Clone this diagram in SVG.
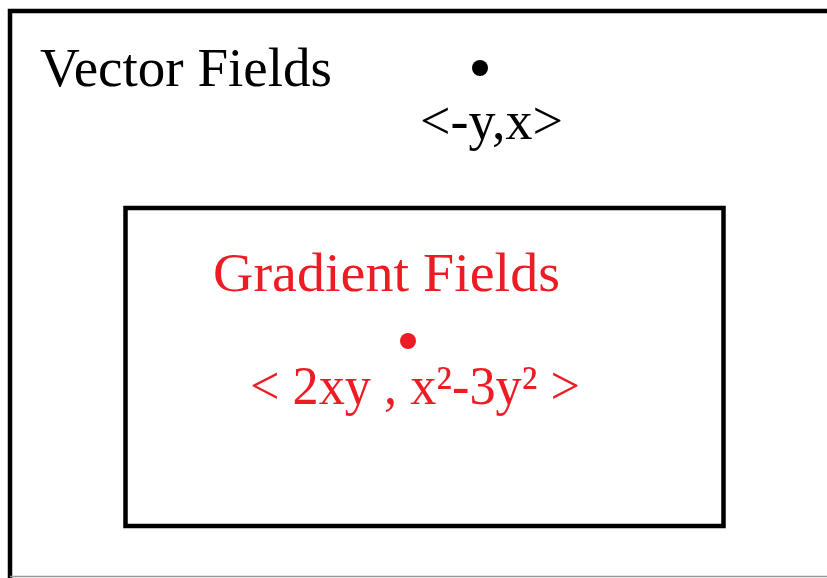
<svg xmlns="http://www.w3.org/2000/svg" width="827" height="578" viewBox="0 0 827 578">
<style>
.t{font-family:"Liberation Serif","Times New Roman",serif;font-size:55px}
.blk{fill:#000}
.red{fill:#ed1c24}
.box{fill:none;stroke:#000;stroke-width:4.5}
</style>
<rect width="827" height="578" fill="#fff"/>
<g id="vector-fields">
<rect class="box" x="10" y="11" width="830" height="580"/>
<line x1="10" y1="576.5" x2="827" y2="576.5" stroke="#999" stroke-width="1.5"/>
<text class="t blk" x="40" y="86" textLength="292" lengthAdjust="spacingAndGlyphs">Vector Fields</text>
<circle class="blk" cx="480" cy="68" r="8"/>
<text class="t blk" x="420" y="139" textLength="143" lengthAdjust="spacingAndGlyphs">&lt;-y,x&gt;</text>
</g>
<g id="gradient-fields">
<rect class="box" x="125.5" y="208" width="598" height="318"/>
<text class="t red" x="213" y="291" textLength="347" lengthAdjust="spacingAndGlyphs">Gradient Fields</text>
<circle class="red" cx="408" cy="341" r="8"/>
<text class="t red" x="250" y="404" textLength="330" lengthAdjust="spacingAndGlyphs">&lt; 2xy , x²-3y² &gt;</text>
</g>
<g id="connectors"/>
</svg>
